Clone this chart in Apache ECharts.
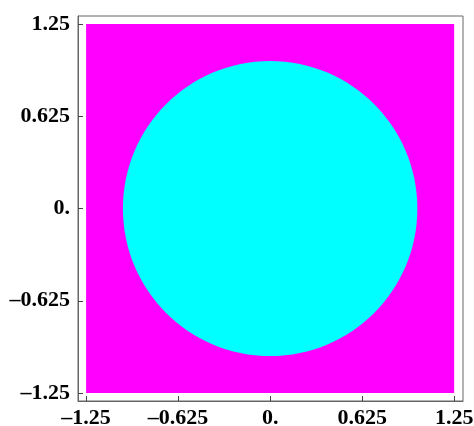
<!DOCTYPE html>
<html>
<head>
<meta charset="utf-8">
<style>
  html, body { margin: 0; padding: 0; background: #fff; }
  #chart { width: 474px; height: 426px; }
</style>
<script src="https://cdn.jsdelivr.net/npm/echarts@6/dist/echarts.min.js"></script>
</head>
<body>
<div id="chart"></div>
<script>
// Region plot of x^2 + y^2 < 1 over the square [-1.25, 1.25]^2
const plotRange = [-1.25, 1.25];
const diskCenter = [0, 0];
const diskRadius = 1;
const tickValues = [-1.25, -0.625, 0, 0.625, 1.25];
const tickLabels = ['\u20131.25', '\u20130.625', '0.', '0.625', '1.25'];

const outsideColor = '#ff00ff';
const insideColor = '#00ffff';

function labelFor(v) {
  const i = tickValues.findIndex(t => Math.abs(t - v) < 1e-9);
  return i >= 0 ? tickLabels[i] : '';
}

const labelStyle = {
  fontFamily: '"Liberation Serif", "Times New Roman", serif',
  fontWeight: 'bold',
  fontSize: 22,
  color: '#000'
};

const chart = echarts.init(document.getElementById('chart'), null, { renderer: 'canvas' });

chart.setOption({
  animation: false,
  backgroundColor: '#fff',
  grid: {
    left: 78, top: 16, width: 385, height: 385,
    containLabel: false, outerBoundsMode: 'none',
    show: true, borderColor: '#666', borderWidth: 1, backgroundColor: '#fff'
  },
  xAxis: {
    type: 'value', min: -1.305, max: 1.31,
    splitLine: { show: false },
    axisLine: { show: true, onZero: false, lineStyle: { color: '#666' } },
    axisTick: { show: true, inside: true, length: 5, customValues: tickValues, lineStyle: { color: '#444' } },
    axisLabel: Object.assign({ customValues: tickValues, formatter: labelFor, margin: 6 }, labelStyle)
  },
  yAxis: {
    type: 'value', min: -1.304, max: 1.304,
    splitLine: { show: false },
    axisLine: { show: true, onZero: false, lineStyle: { color: '#666' } },
    axisTick: { show: true, inside: true, length: 5, customValues: tickValues, lineStyle: { color: '#444' } },
    axisLabel: Object.assign({ customValues: tickValues, formatter: labelFor, margin: 8 }, labelStyle)
  },
  series: [
    {
      // background square: region where the inequality fails
      type: 'custom',
      silent: true,
      data: [[plotRange[0], plotRange[1], plotRange[1], plotRange[0]]],
      renderItem: function (params, api) {
        const p0 = api.coord([api.value(0), api.value(1)]);
        const p1 = api.coord([api.value(2), api.value(3)]);
        return {
          type: 'rect',
          shape: { x: p0[0], y: p0[1], width: p1[0] - p0[0], height: p1[1] - p0[1] },
          style: { fill: outsideColor }
        };
      },
      z: 1
    },
    {
      // unit disk: region where the inequality holds
      type: 'custom',
      silent: true,
      data: [[diskCenter[0], diskCenter[1], diskRadius]],
      renderItem: function (params, api) {
        const c = api.coord([api.value(0), api.value(1)]);
        const s = api.size([api.value(2), api.value(2)]);
        return {
          type: 'ellipse',
          shape: { cx: c[0], cy: c[1], rx: s[0], ry: s[1] },
          style: { fill: insideColor }
        };
      },
      z: 2
    }
  ]
});
</script>
</body>
</html>
